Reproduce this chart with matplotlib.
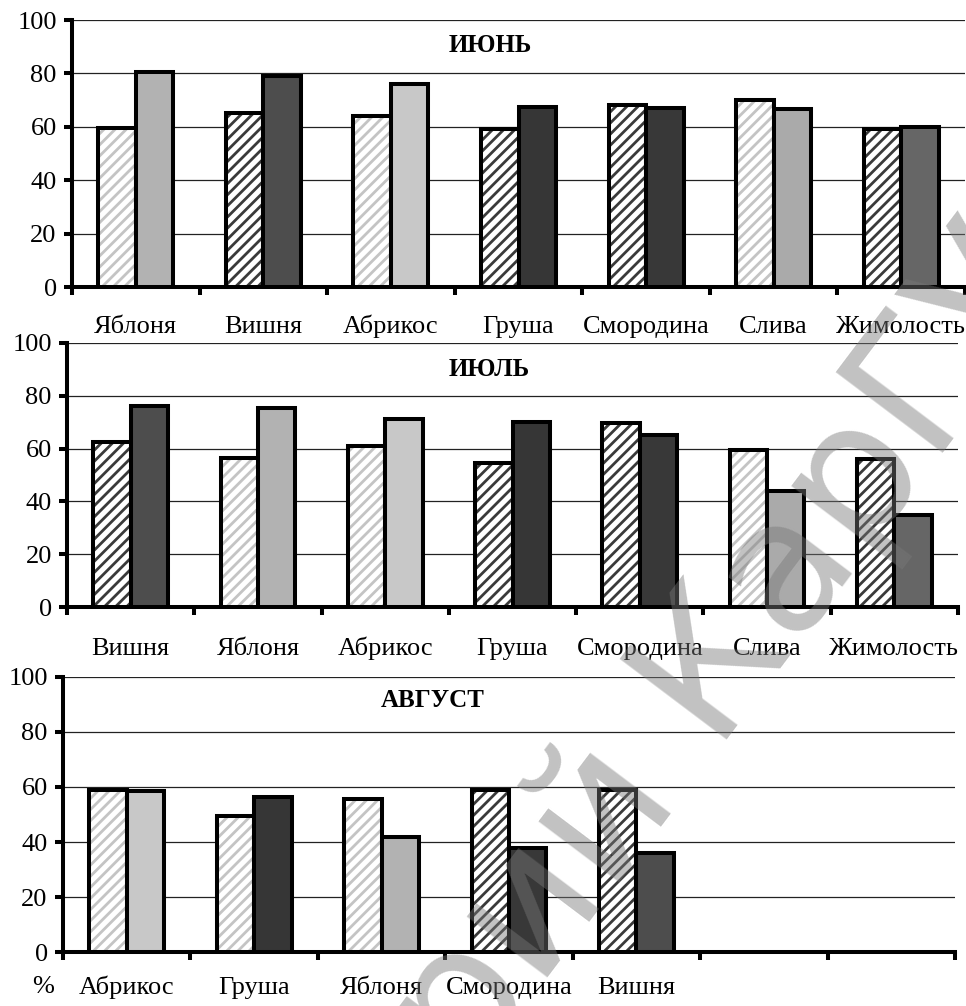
import numpy as np
import matplotlib.pyplot as plt

# --- data ---
months = ['ИЮНЬ', 'ИЮЛЬ', 'АВГУСТ']

june_cats = ['Яблоня', 'Вишня', 'Абрикос', 'Груша', 'Смородина', 'Слива', 'Жимолость']
june_a = [59.5, 65, 64, 59, 68, 70, 59]
june_b = [80.5, 79, 76, 67.5, 67, 66.5, 60]

july_cats = ['Вишня', 'Яблоня', 'Абрикос', 'Груша', 'Смородина', 'Слива', 'Жимолость']
july_a = [62.5, 56.5, 61, 54.5, 69.5, 59.5, 56]
july_b = [76, 75.5, 71, 70, 65, 44, 35]

aug_cats = ['Абрикос', 'Груша', 'Яблоня', 'Смородина', 'Вишня']
aug_a = [59, 49.5, 55.5, 59, 59]
aug_b = [58.5, 56.5, 42, 38, 36]

yticks = [0, 20, 40, 60, 80, 100]

# --- styles ---
solid = {'Яблоня': '#b2b2b2', 'Вишня': '#4d4d4d', 'Абрикос': '#c8c8c8',
         'Груша': '#363636', 'Смородина': '#383838', 'Слива': '#aaaaaa',
         'Жимолость': '#666666'}
LIGHT, DARK = '#c4c4c4', '#3a3a3a'
june_h = [LIGHT, DARK, LIGHT, DARK, DARK, LIGHT, DARK]
july_h = [DARK, LIGHT, LIGHT, DARK, DARK, LIGHT, DARK]
aug_h = [LIGHT, LIGHT, LIGHT, DARK, DARK]

plt.rcParams['font.family'] = ['Liberation Serif', 'DejaVu Serif']
plt.rcParams['hatch.linewidth'] = 2.0

fig = plt.figure(figsize=(9.66, 10.06), dpi=100)

rects = [[0.0745, 0.7147, 0.9245, 0.2654],
         [0.0694, 0.3963, 0.9223, 0.2630],
         [0.0652, 0.0534, 0.9234, 0.2739]]
title_pos = [(2.78, 90.6), (2.82, 89.7), (2.40, 91.5)]
label_pad = [33, 34, 30]

panels = [(june_cats, june_a, june_b, june_h),
          (july_cats, july_a, july_b, july_h),
          (aug_cats, aug_a, aug_b, aug_h)]

nslots = 7
w = 0.294
lw = 2.9
fs = 19

for k, (cats, a, b, hc) in enumerate(panels):
    ax = fig.add_axes(rects[k])
    x = np.arange(len(cats))
    # hatched first bars: hatch fill, then black outline
    for i in range(len(cats)):
        ax.bar(x[i] - w / 2, a[i], w, color='white', edgecolor=hc[i],
               hatch='///', linewidth=0, zorder=3)
    ax.bar(x - w / 2, a, w, fill=False, edgecolor='black', linewidth=lw, zorder=4)
    ax.bar(x + w / 2, b, w, color=[solid[c] for c in cats], edgecolor='black',
           linewidth=lw, zorder=4)

    ax.set_xlim(-0.5, nslots - 0.5)
    ax.set_ylim(0, 100)
    ax.set_yticks(yticks)
    ax.yaxis.grid(True, color='#222222', linewidth=0.9, zorder=0)
    ax.set_axisbelow(True)

    ax.set_xticks(np.arange(nslots + 1) - 0.5)
    ax.set_xticklabels([])
    ax.set_xticks(x, minor=True)
    ax.set_xticklabels(cats, minor=True, va='baseline')
    ax.tick_params(axis='x', which='major', length=6, width=lw, direction='out')
    ax.tick_params(axis='x', which='minor', length=0, pad=label_pad[k], labelsize=fs)
    ax.tick_params(axis='y', length=6, width=lw, pad=5, labelsize=fs)

    for s in ['top', 'right']:
        ax.spines[s].set_visible(False)
    for s in ['left', 'bottom']:
        ax.spines[s].set_linewidth(lw)

    ax.text(title_pos[k][0], title_pos[k][1], months[k], ha='center', va='center',
            fontsize=18, fontweight='bold', zorder=5)

fig.text(43 / 966, 1 - 993 / 1006, '%', ha='center', va='baseline', fontsize=fs)

# watermark
fig.text(0.475, -0.005, 'Репозиторий КарГУ', rotation=53, rotation_mode='anchor',
         ha='center', va='center', fontsize=132, color='#787878', alpha=0.45,
         family='DejaVu Sans', zorder=10)

fig.savefig('out.png', dpi=100)
